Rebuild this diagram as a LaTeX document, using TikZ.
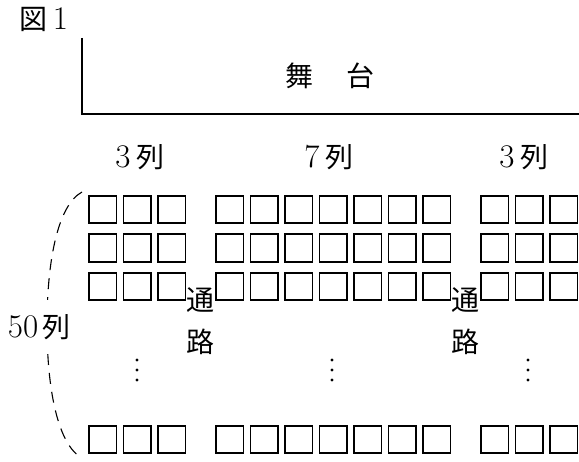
\documentclass[tikz,border=0pt]{standalone}
\usepackage{fontspec}
\newfontfamily\jp{Noto Sans CJK JP}
\newcommand\jk[1]{{\jp\fontsize{28}{32}\selectfont #1}}
\begin{document}
\begin{tikzpicture}[x=1pt,y=-1pt,
  seat/.style={draw,line width=1.8pt,minimum size=27.5pt,inner sep=0pt,anchor=north west},
  lbl/.style={font=\fontsize{33}{36}\selectfont,inner sep=0pt},
  jl/.style={font=\fontsize{28}{32}\selectfont\jp,inner sep=0pt},
  stageline/.style={line width=1.4pt},
  bracel/.style={line width=1.1pt,dash pattern=on 11pt off 8pt}]
\useasboundingbox (0,0) rectangle (579,462);
% figure title
\node[lbl] (fig) at (44,19) {\jk{図}\hspace{0.15em}1};
% stage
\coordinate (st) at (82,38);
\coordinate (sc) at (82,114);
\coordinate (se) at (579,114);
\draw[stageline] (st) -- (sc) -- (se);
\node[jl] (stage) at (330,76) {舞\hspace{1.2em}台};
% column labels
\node[lbl] (c1) at (140,157) {3\hspace{0.18em}\jk{列}};
\node[lbl] (c2) at (329,157) {7\hspace{0.18em}\jk{列}};
\node[lbl] (c3) at (524,157) {3\hspace{0.18em}\jk{列}};
% seats
\foreach \r/\y in {1/195,2/233.5,3/272,4/425}{
  \foreach \c/\x in {1/88,2/122.5,3/157,4/215,5/249.5,6/284,7/318.5,8/353,9/387.5,10/422,11/480,12/514.5,13/549}{
    \node[seat] (s\r-\c) at (\x,\y) {};
  }
}
% aisles
\node[jl] (a1) at (200,300) {通};
\node[jl] (b1) at (200,342) {路};
\node[jl] (a2) at (465,300) {通};
\node[jl] (b2) at (465,342) {路};
% vertical dots
\foreach \x in {137,332,528}{
  \foreach \y in {360,370,380}{
    \fill (\x,\y) circle (1.7pt);
  }
}
% brace
\coordinate (bt) at (82,192);
\coordinate (bb) at (82,458);
\draw[bracel] (bt) .. controls (58,205) and (47,260) .. (47,325) .. controls (47,390) and (58,445) .. (bb);
\node[lbl,fill=white,inner ysep=14pt,inner xsep=1pt] (n50) at (39,327) {50\hspace{0.12em}\jk{列}};
\end{tikzpicture}
\end{document}
